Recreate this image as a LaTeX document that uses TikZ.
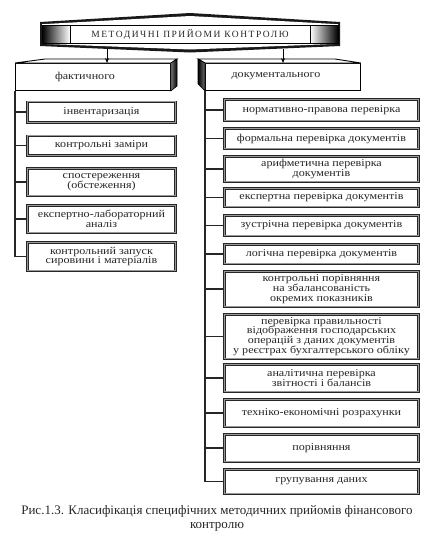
\documentclass[tikz,border=0pt]{standalone}
\usepackage{fontspec}
\usetikzlibrary{arrows.meta}
\setmainfont{Liberation Serif}
\newfontfamily\boxfont[FakeStretch=1.15]{Liberation Serif}
\newfontfamily\titlefont[LetterSpace=16]{Liberation Serif}
\begin{document}
\begin{tikzpicture}[x=1pt,y=-1pt,
  sub/.style={draw=black!85, double=black!40, double distance=0.9pt, line width=0.8pt,
    fill=white, inner sep=0pt, align=center, text=black!85,
    font=\boxfont\fontsize{10.5}{9.8}\selectfont},
  lsub/.style={sub, minimum width=148},
  rsub/.style={sub, minimum width=194},
  link/.style={draw=black!85, line width=1.1pt},
  lvl/.style={draw=black, line width=0.9pt, fill=white, inner sep=0pt, minimum height=27, minimum width=155},
  lvltext/.style={text=black!85, font=\boxfont\fontsize{10.5}{10}\selectfont},
  arr/.style={draw=black, line width=0.9pt, -{Stealth[length=5pt,width=4pt]}}]
\useasboundingbox (0,0) rectangle (428,539);

% banner
\fill[black!90] (40,22) -- (190,13) -- (340,22) -- (340,46) -- (190,52.5) -- (40,46) -- cycle;
\fill[white] (42,24.2) -- (190,16) -- (338,24.2) -- (338,43.8) -- (190,49.5) -- (42,43.8) -- cycle;
\shade[left color=black, right color=white] (42,25) rectangle (70,43);
\shade[left color=white, right color=black] (310,25) rectangle (338,43);
\draw[line width=0.9pt] (42,25) rectangle (338,43);
\node[draw=black, line width=0.9pt, fill=white, minimum width=240, minimum height=18, inner sep=0pt,
  text=black!85, font=\titlefont\fontsize{9.5}{9.5}\selectfont] (title) at (190,34) {МЕТОДИЧНІ ПРИЙОМИ КОНТРОЛЮ};

% second level: фактичного
\node[lvl, anchor=north west] (fakt) at (15,63) {};
\draw[line width=0.9pt, fill=white] (fakt.north west) -- (45,59) -- (177,59) -- (fakt.north east) -- cycle;
\shade[left color=black!55, right color=black, draw=black, line width=0.6pt] (fakt.north east) -- (177,59) -- (177,86) -- (fakt.south east) -- cycle;
\node[lvltext] (fakttext) at (85,77) {фактичного};

% second level: документального
\node[lvl, anchor=north west] (doc) at (205,63) {};
\draw[line width=0.9pt, fill=white] (doc.north west) -- (198,59) -- (335,59) -- (doc.north east) -- cycle;
\shade[left color=black, right color=black!55, draw=black, line width=0.6pt] (doc.north west) -- (198,59) -- (198,84) -- (doc.south west) -- cycle;
\node[lvltext] (doctext) at (276,76) {документального};

% arrows
\coordinate (a1) at (107,48.5);
\coordinate (a2) at (283,48.5);
\draw[arr] (a1) -- (a1 |- fakt.north);
\draw[arr] (a2) -- (a2 |- doc.north);

% left column
\node[lsub, minimum height=20.5] (l1) at (101.5,112) {інвентаризація};
\node[lsub, minimum height=19.5] (l2) at (101.5,145.5) {контрольні заміри};
\node[lsub, minimum height=27.5] (l3) at (101.5,182) {спостереження\\(обстеження)};
\node[lsub, minimum height=27.5] (l4) at (101.5,219) {експертно-лабораторний\\аналіз};
\node[lsub, minimum height=28.5] (l5) at (101.5,256.5) {контрольний запуск\\сировини і матеріалів};

\draw[link] (fakt.south west) |- (l5.west);
\foreach \n in {l1,l2,l3,l4}{\draw[link] (\n.west -| fakt.south west) -- (\n.west);}

% right column
\node[rsub, minimum height=21.5] (r1) at (321.5,110) {нормативно-правова перевірка};
\node[rsub, minimum height=20.5] (r2) at (321.5,138.5) {формальна перевірка документів};
\node[rsub, minimum height=25.5] (r3) at (321.5,169) {арифметична перевірка\\документів};
\node[rsub, minimum height=18.5] (r4) at (321.5,197.5) {експертна перевірка документів};
\node[rsub, minimum height=20.5] (r5) at (321.5,225.5) {зустрічна перевірка документів};
\node[rsub, minimum height=19.5] (r6) at (321.5,254) {логічна перевірка документів};
\node[rsub, minimum height=35.5] (r7) at (321.5,289) {контрольні порівняння\\на збалансованість\\окремих показників};
\node[rsub, minimum height=44.5] (r8) at (321.5,336.5) {перевірка правильності\\відображення господарських\\операцій з даних документів\\у реєстрах бухгалтерського обліку};
\node[rsub, minimum height=27.5] (r9) at (321.5,378) {аналітична перевірка\\звітності і балансів};
\node[rsub, minimum height=27.5] (r10) at (321.5,413) {техніко-економічні розрахунки};
\node[rsub, minimum height=27.5] (r11) at (321.5,448) {порівняння};
\node[rsub, minimum height=24.5] (r12) at (321.5,481.5) {групування даних};

\draw[link] (doc.south west) |- (r12.west);
\foreach \n in {r1,r2,r3,r4,r5,r6,r7,r8,r9,r10,r11}{\draw[link] (\n.west -| doc.south west) -- (\n.west);}

% caption
\node[align=center, text=black!85, font=\fontsize{13}{14}\selectfont] (cap) at (217,518)
  {Рис.1.3. Класифікація специфічних методичних прийомів фінансового\\контролю};
\end{tikzpicture}
\end{document}
